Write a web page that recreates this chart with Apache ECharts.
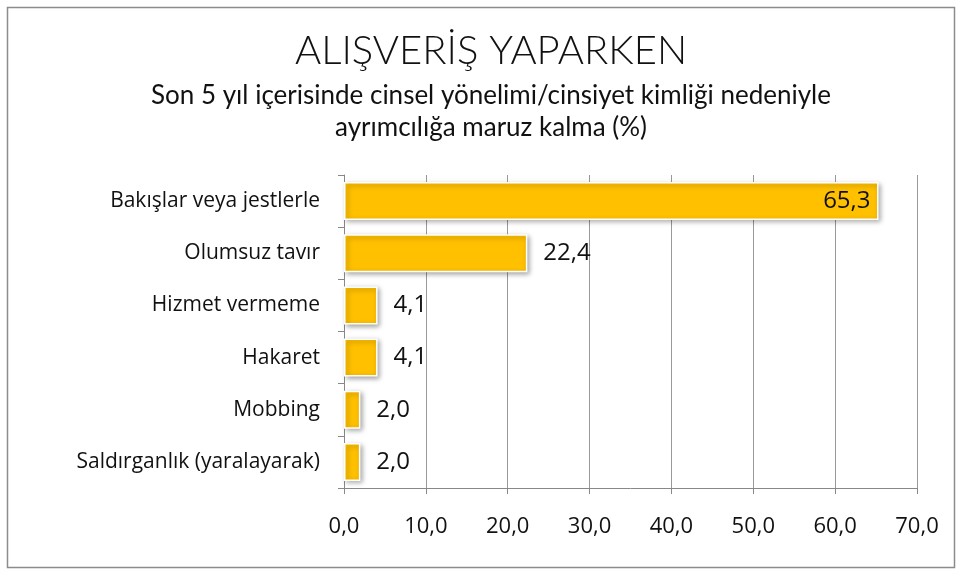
<!DOCTYPE html>
<html>
<head>
<meta charset="utf-8">
<script src="https://cdn.jsdelivr.net/npm/echarts@6/dist/echarts.min.js"></script>
<style>
  html, body { margin: 0; padding: 0; background: #fff; }
  #chart { width: 960px; height: 576px; }
</style>
</head>
<body>
<div id="chart"></div>
<script>
const categories = ['Bakışlar veya jestlerle', 'Olumsuz tavır', 'Hizmet vermeme', 'Hakaret', 'Mobbing', 'Saldırganlık (yaralayarak)']
const values = [65.3, 22.4, 4.1, 4.1, 2.0, 2.0]
const titleText = 'ALIŞVERİŞ YAPARKEN'
const subtitleText = 'Son 5 yıl içerisinde cinsel yönelimi/cinsiyet kimliği nedeniyle\nayrımcılığa maruz kalma (%)'

const fmt = v => v.toFixed(1).replace('.', ',')
const font = '"Open Sans", Lato, sans-serif'

const chart = echarts.init(document.getElementById('chart'))

chart.setOption({
  animation: false,
  textStyle: { fontFamily: font },
  graphic: [{
    type: 'rect',
    shape: { x: 7.5, y: 7.5, width: 947, height: 560 },
    style: { fill: 'none', stroke: '#8c8c8c', lineWidth: 1.5 }
  }],
  title: {
    text: titleText,
    subtext: subtitleText,
    left: 486,
    textAlign: 'center',
    top: 26,
    itemGap: 9,
    textStyle: { fontSize: 40, fontWeight: 300, color: '#111', fontFamily: 'Lato, sans-serif' },
    subtextStyle: { fontSize: 26, color: '#111', lineHeight: 32, fontFamily: 'Lato, sans-serif' }
  },
  grid: { left: 344, right: 43, top: 175, bottom: 88 },
  xAxis: {
    type: 'value',
    min: 0,
    max: 70,
    interval: 10,
    axisLine: { show: true, lineStyle: { color: '#888' } },
    axisTick: { show: true, length: 6, lineStyle: { color: '#888' } },
    splitLine: { lineStyle: { color: '#999', width: 1 } },
    axisLabel: { formatter: fmt, color: '#111', fontSize: 22, margin: 28 }
  },
  yAxis: {
    type: 'category',
    inverse: true,
    data: categories,
    axisLine: { show: true, lineStyle: { color: '#888' } },
    axisTick: { show: true, length: 6, lineStyle: { color: '#888' } },
    axisLabel: { color: '#111', fontSize: 21, margin: 24 }
  },
  series: [{
    type: 'bar',
    data: values.map((v, i) => i === 0
      ? { value: v, label: { position: 'insideRight', distance: 8 } }
      : v),
    barCategoryGap: '27%',
    itemStyle: {
      color: '#ffc000',
      borderColor: '#fff',
      borderWidth: 1.5,
      shadowColor: 'rgba(0,0,0,0.35)',
      shadowBlur: 5,
      shadowOffsetX: 2,
      shadowOffsetY: 2
    },
    label: {
      show: true,
      position: 'right',
      distance: 16,
      formatter: p => fmt(p.value),
      color: '#111',
      fontSize: 24
    }
  }]
})
</script>
</body>
</html>
